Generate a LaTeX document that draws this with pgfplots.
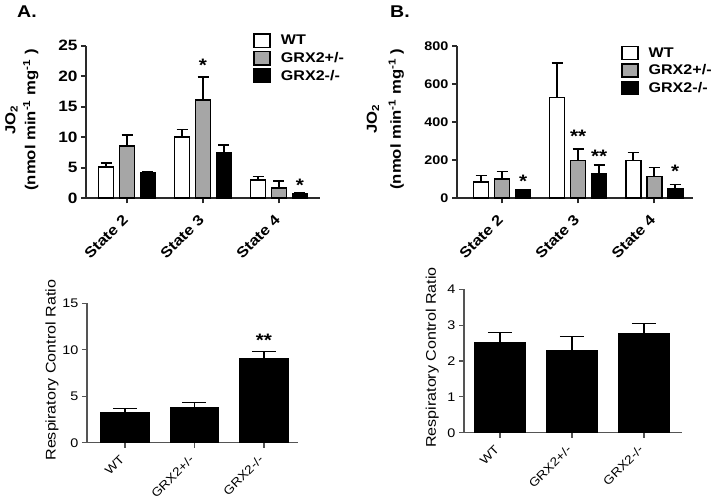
\documentclass[border=0pt]{standalone}
\usepackage{pgfplots}
\pgfplotsset{compat=1.18}
\usepackage{fontspec}
\setmainfont{Liberation Sans}[FakeStretch=1.15]
\definecolor{barg}{HTML}{A6A6A6}
\definecolor{axc}{HTML}{2A2A2A}
\newcommand{\fs}[1]{\fontsize{#1bp}{#1bp}\selectfont}
\pgfplotsset{
  common/.style={scale only axis, axis lines*=left, tick align=outside,
    major tick length=5bp, ymin=0, clip=false, xtick={1,2,3},
    /pgf/number format/assume math mode=true},
  topaxis/.style={common, axis line style={line width=1.8bp, axc},
    tick style={line width=1.8bp, axc},
    yticklabel style={font=\bfseries\fs{15}},
    xticklabel style={font=\bfseries\fs{14.5}, inner sep=0pt, xshift=-1.4bp, yshift=-13.9bp, rotate=45, anchor=east},
    xticklabels={State 2,State 3,State 4},
    ylabel style={align=center, anchor=south},
    legend style={draw=none, fill=none, inner sep=0pt, anchor=north west,
      font=\bfseries\fs{14}, row sep=2bp, legend cell align=left,
      nodes={inner sep=2bp},
      /tikz/every odd column/.style={column sep=8bp}}},
  botaxis/.style={common, axis line style={line width=1.3bp, axc!80},
    tick style={line width=1.3bp, axc!80},
    yticklabel style={font=\fs{12.5}},
    xticklabel style={font=\fs{12}, inner sep=0pt, xshift=-2.8bp, yshift=-9.6bp, rotate=45, anchor=east},
    xticklabels={WT,GRX2+/-,GRX2-/-},
    ylabel={Respiratory Control Ratio},
    ylabel style={font=\fs{14}, anchor=south}},
  topbar/.style={ybar, bar width=15bp, bar shift=0pt, draw=black, line width=1.7bp,
    legend image code/.code={\draw[##1, line width=1.6bp] (0bp,-6.6bp) rectangle (16bp,6.6bp);},
    error bars/y dir=plus, error bars/y explicit,
    error bars/error bar style={line width=1.6bp, black},
    error bars/error mark options={rotate=90, mark size=5.5bp, line width=1.6bp, black}},
  botbar/.style={ybar, bar shift=0pt, draw=black, fill=black, line width=1.3bp,
    error bars/y dir=plus, error bars/y explicit,
    error bars/error bar style={line width=1.3bp, black},
    error bars/error mark options={rotate=90, mark size=12bp, line width=1.3bp, black}},
}
\begin{document}
\begin{tikzpicture}
\useasboundingbox (0,0) rectangle (714bp,501bp);
\node[font=\bfseries\fs{17}] at (27bp,489bp) {A.};
\node[font=\bfseries\fs{17}] at (400bp,489bp) {B.};
% Top A
\begin{axis}[topaxis, at={(86bp,302.7bp)}, anchor=south west,
  width=234bp, height=152.6bp, xmin=0.46, xmax=3.54, ymax=25,
  ytick={0,5,10,15,20,25},
  ylabel={JO\textsubscript{2}\\(nmol min\textsuperscript{-1} mg\textsuperscript{-1} )},
  ylabel style={font=\bfseries\fontsize{14.5bp}{20bp}\selectfont, at={(axis description cs:-0.188,0.513)}},
  legend style={at={(axis description cs:0.714,1.083)}}]
\addplot[topbar, fill=white] coordinates {(0.724,5.1) +- (0,0.7) (1.724,10.0) +- (0,1.3) (2.724,3.0) +- (0,0.6)};
\addplot[topbar, fill=barg] coordinates {(1,8.6) +- (0,1.8) (2,16.1) +- (0,3.8) (3,1.7) +- (0,1.1)};
\addplot[topbar, fill=black] coordinates {(1.276,4.2) +- (0,0.2) (2.276,7.5) +- (0,1.2) (3.276,0.8) +- (0,0.1)};
\legend{WT,GRX2+/-,GRX2-/-}
\node[font=\bfseries\fs{18}] at (axis cs:2,21.8) {*};
\node[font=\bfseries\fs{18}] at (axis cs:3.276,2.2) {*};
\end{axis}
% Top B
\begin{axis}[topaxis, at={(457bp,302.7bp)}, anchor=south west,
  width=236bp, height=152.6bp, xmin=0.408, xmax=3.51, ymax=800,
  ytick={0,200,400,600,800},
  yticklabel style={font=\bfseries\fs{12.5}},
  ylabel={JO\textsubscript{2}\\(nmol min\textsuperscript{-1} mg\textsuperscript{-1} )},
  ylabel style={font=\bfseries\fontsize{14.5bp}{24bp}\selectfont, at={(axis description cs:-0.21,0.519)}},
  legend style={at={(axis description cs:0.694,1.003)}}]
\addplot[topbar, fill=white] coordinates {(0.724,86) +- (0,33) (1.724,528) +- (0,180) (2.724,198) +- (0,43)};
\addplot[topbar, fill=barg] coordinates {(1,100) +- (0,40) (2,198) +- (0,62) (3,114) +- (0,47)};
\addplot[topbar, fill=black] coordinates {(1.276,42) +- (0,2) (2.276,126) +- (0,47) (3.276,51) +- (0,22)};
\legend{WT,GRX2+/-,GRX2-/-}
\node[font=\bfseries\fs{18}] at (axis cs:1.276,87) {*};
\node[font=\bfseries\fs{18}] at (axis cs:2,323) {**};
\node[font=\bfseries\fs{18}] at (axis cs:2.276,218) {**};
\node[font=\bfseries\fs{18}] at (axis cs:3.276,139) {*};
\end{axis}
% Bottom A
\begin{axis}[botaxis, at={(87bp,58.3bp)}, anchor=south west,
  width=211bp, height=139.4bp, xmin=0.453, xmax=3.49, ymax=15,
  ytick={0,5,10,15},
  ylabel style={at={(axis description cs:-0.118,0.52)}}]
\addplot[botbar, bar width=48bp] coordinates {(1,3.2) +- (0,0.5) (2,3.8) +- (0,0.5) (3,9.0) +- (0,0.8)};
\node[font=\bfseries\fs{18}] at (axis cs:3,11.05) {**};
\end{axis}
% Bottom B
\begin{axis}[botaxis, at={(464bp,68.3bp)}, anchor=south west,
  width=218bp, height=143.4bp, xmin=0.5, xmax=3.53, ymax=4,
  ytick={0,1,2,3,4},
  ylabel style={at={(axis description cs:-0.10,0.524)}}]
\addplot[botbar, bar width=50bp] coordinates {(1,2.50) +- (0,0.29) (2,2.28) +- (0,0.41) (3,2.75) +- (0,0.30)};
\end{axis}
\end{tikzpicture}
\end{document}
